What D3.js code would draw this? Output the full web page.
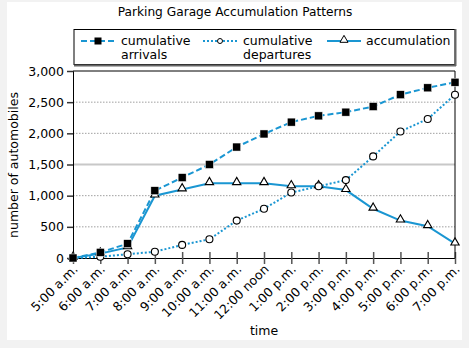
<!DOCTYPE html>
<html><head><meta charset="utf-8">
<script src="https://cdn.jsdelivr.net/npm/d3@7"></script>
<style>
body{margin:0;background:#f2f2f2;}
svg{display:block;}
text{font-family:"DejaVu Sans",Verdana,sans-serif;fill:#000;}
</style></head>
<body>
<svg id="c" width="469" height="348"></svg>
<script>
const times = ["5:00 a.m.","6:00 a.m.","7:00 a.m.","8:00 a.m.","9:00 a.m.","10:00 a.m.","11:00 a.m.","12:00 noon","1:00 p.m.","2:00 p.m.","3:00 p.m.","4:00 p.m.","5:00 p.m.","6:00 p.m.","7:00 p.m."];
const arrivals = [0,90,230,1080,1290,1500,1780,1990,2180,2280,2340,2430,2620,2730,2820];
const departures = [0,20,60,100,210,300,600,790,1050,1150,1250,1630,2030,2230,2620];
const accumulation = [0,70,170,1000,1100,1200,1200,1200,1150,1150,1090,790,600,510,230];
const yTicks = [0,500,1000,1500,2000,2500,3000];
const seriesNames = ["cumulative\narrivals","cumulative\ndepartures","accumulation"];

const svg = d3.select("#c");
const blue = "#1a96d2";
svg.append("rect").attr("x",7).attr("y",2).attr("width",455).attr("height",338).attr("fill","#fff");

const L=73,R=455,T=71,B=258;
const x = d3.scalePoint().domain(times).range([L,R]);
const y = d3.scaleLinear().domain([0,3000]).range([B,T]);

svg.append("text").attr("x",235).attr("y",16).attr("text-anchor","middle").attr("font-size",12.2).text("Parking Garage Accumulation Patterns");

yTicks.forEach(v=>{
  if(v===0||v===3000) return;
  const g = svg.append("line").attr("x1",L).attr("x2",R).attr("y1",y(v)).attr("y2",y(v));
  if(v===1500) g.attr("stroke","#c8c8c8").attr("stroke-width",2);
  else g.attr("stroke","#888").attr("stroke-width",0.8).attr("stroke-dasharray","1.5,1.5");
});

const ya = svg.append("g").attr("transform",`translate(${L},0)`).call(d3.axisLeft(y).tickValues(yTicks).tickFormat(d3.format(",")).tickSize(6).tickPadding(3));
ya.select(".domain").attr("stroke","#000");
ya.selectAll(".tick line").attr("stroke","#333").attr("stroke-width",1.5);
ya.selectAll("text").attr("font-size",12.5).style("font-family","DejaVu Sans");

const xa = svg.append("g").attr("transform",`translate(0,${B})`).call(d3.axisBottom(x).tickSize(6).tickSizeOuter(0));
xa.select(".domain").attr("stroke","#000");
xa.selectAll(".tick line").attr("stroke","#555").attr("stroke-width",1.5).attr("y1",-6);
xa.selectAll("text").attr("font-size",12.5).style("font-family","DejaVu Sans")
  .attr("text-anchor","end").attr("dy",0).attr("y",0)
  .attr("transform","translate(5,12) rotate(-45)");

svg.append("line").attr("x1",L).attr("x2",R).attr("y1",T).attr("y2",T).attr("stroke","#000");
svg.append("line").attr("x1",R).attr("x2",R).attr("y1",T).attr("y2",B).attr("stroke","#000");

svg.append("text").attr("transform",`translate(18,165) rotate(-90)`).attr("text-anchor","middle").attr("font-size",12.5).text("number of automobiles");
svg.append("text").attr("x",264).attr("y",335).attr("text-anchor","middle").attr("font-size",12.5).text("time");

const line = d3.line().x((d,i)=>x(times[i])).y(d=>y(d));
svg.append("path").datum(departures).attr("d",line).attr("fill","none").attr("stroke",blue).attr("stroke-width",2).attr("stroke-dasharray","2,2");
svg.append("path").datum(accumulation).attr("d",line).attr("fill","none").attr("stroke",blue).attr("stroke-width",2);
svg.append("path").datum(arrivals).attr("d",line).attr("fill","none").attr("stroke",blue).attr("stroke-width",2).attr("stroke-dasharray","6,3");

const tri = d3.symbol().type(d3.symbolTriangle).size(30);
function drawMarks(data,kind){
  const g = svg.append("g");
  data.forEach((d,i)=>{
    const cx=x(times[i]), cy=y(d);
    if(kind==="sq") g.append("rect").attr("x",cx-4).attr("y",cy-4).attr("width",8).attr("height",8).attr("fill","#000").attr("stroke","#fff").attr("stroke-width",0.5);
    else if(kind==="circ") g.append("circle").attr("cx",cx).attr("cy",cy).attr("r",3.5).attr("fill","#fff").attr("stroke","#000").attr("stroke-width",1.1);
    else g.append("path").attr("d",tri).attr("transform",`translate(${cx},${cy-1})`).attr("fill","#fff").attr("stroke","#000").attr("stroke-width",1.1);
  });
}
drawMarks(accumulation,"tri");
drawMarks(departures,"circ");
drawMarks(arrivals,"sq");

const lg = svg.append("g");
lg.append("rect").attr("x",74).attr("y",29.5).attr("width",381).attr("height",35).attr("fill","#fff").attr("stroke","#000").attr("stroke-width",1);
lg.append("line").attr("x1",74).attr("x2",456).attr("y1",65.5).attr("y2",65.5).attr("stroke","#666").attr("stroke-width",2);
lg.append("line").attr("x1",455.5).attr("x2",455.5).attr("y1",29).attr("y2",66).attr("stroke","#666").attr("stroke-width",2);
const items = [
  {x0:81,x1:115,tx:121,dash:"6,3",kind:"sq"},
  {x0:203,x1:237,tx:243,dash:"2,2",kind:"circ"},
  {x0:327,x1:361,tx:366,dash:null,kind:"tri"}
];
items.forEach((it,k)=>{
  const ly=41;
  const l = lg.append("line").attr("x1",it.x0).attr("x2",it.x1).attr("y1",ly).attr("y2",ly).attr("stroke",blue).attr("stroke-width",2);
  if(it.dash) l.attr("stroke-dasharray",it.dash);
  const cx=(it.x0+it.x1)/2;
  if(it.kind==="sq") lg.append("rect").attr("x",cx-3.5).attr("y",ly-3.5).attr("width",7).attr("height",7).attr("fill","#000");
  else if(it.kind==="circ") lg.append("circle").attr("cx",cx).attr("cy",ly).attr("r",2.5).attr("fill","#fff").attr("stroke","#000");
  else lg.append("path").attr("d",d3.symbol().type(d3.symbolTriangle).size(28)).attr("transform",`translate(${cx},${ly-1})`).attr("fill","#fff").attr("stroke","#000");
  const t = lg.append("text").attr("x",it.tx).attr("y",45).attr("font-size",12.5);
  seriesNames[k].split("\n").forEach((s,j)=>t.append("tspan").attr("x",it.tx).attr("dy",j?13.5:0).text(s));
});
</script>
</body></html>
